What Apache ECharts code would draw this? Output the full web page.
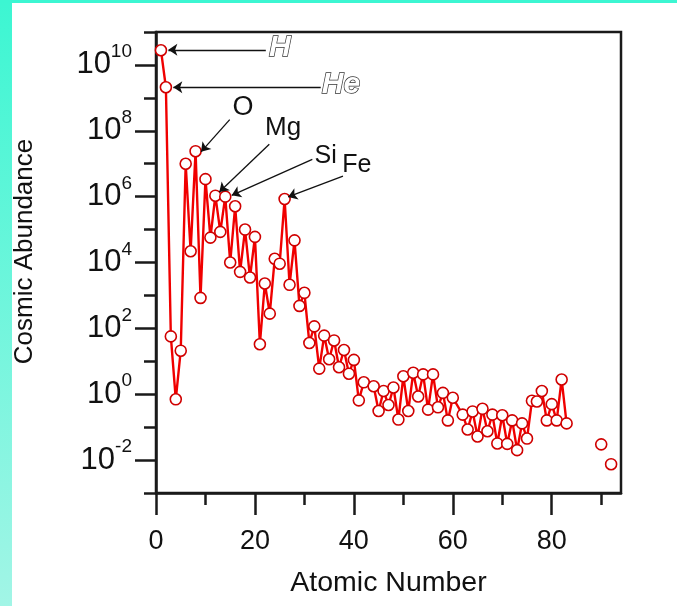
<!DOCTYPE html>
<html><head><meta charset="utf-8">
<script src="https://cdn.jsdelivr.net/npm/echarts@6.0.0/dist/echarts.min.js"></script>
<style>html,body{margin:0;padding:0;background:#fff}#c{width:677px;height:606px}</style>
</head><body><div id="c"></div>
<script>
// ---- data ----
const atomicNumbers = [1,2,3,4,5,6,7,8,9,10,11,12,13,14,15,16,17,18,19,20,
  21,22,23,24,25,26,27,28,29,30,31,32,33,34,35,36,37,38,39,40,41,42,
  44,45,46,47,48,49,50,51,52,53,54,55,56,57,58,59,60,
  62,63,64,65,66,67,68,69,70,71,72,73,74,75,76,77,78,79,80,81,82,83];
const abundances = [2.8e10,2.1e9,57,0.70,21,1.0e7,2.2e4,2.4e7,840,3.4e6,
  5.7e4,1.07e6,8.5e4,1.0e6,1.0e4,5.1e5,5200,1.0e5,3500,6.0e4,
  33,2300,280,1.3e4,9200,8.5e5,2100,4.7e4,480,1200,
  36,115,6.0,60,11.5,43,6.6,22,4.2,11,0.65,2.3,
  1.75,0.31,1.25,0.47,1.6,0.17,3.5,0.31,4.5,0.85,4.0,0.34,4.0,0.40,1.1,0.16,0.78,
  0.24,0.085,0.30,0.052,0.36,0.075,0.24,0.032,0.23,0.031,0.16,0.020,0.13,0.045,0.63,0.60,1.25,0.16,0.50,0.16,2.8,0.13];
const heavyAtomicNumbers = [90, 92];
const heavyAbundances = [0.030, 0.0075];

const xMajorTicks = [0, 20, 40, 60, 80];
const xMinorTicks = [10, 30, 50, 70, 90];
const yMajorTicks = [1e-2, 1e0, 1e2, 1e4, 1e6, 1e8, 1e10];
const yMinorTicks = [1e-3, 1e-1, 1e1, 1e3, 1e5, 1e7, 1e9, 1e11];

const xTitle = 'Atomic Number';
const yTitle = 'Cosmic Abundance';
const annotationNames = ['H', 'He', 'O', 'Mg', 'Si', 'Fe'];

// ---- annotation placement (data coordinates: [Z, log10 abundance]) ----
const annotationLayout = {
  H:  {text: [25.05, 10.52], from: [22.2, 10.46], to: [2.5, 10.46], outline: true, size: 30},
  He: {text: [37.4, 9.41],  from: [33.3, 9.32], to: [3.5, 9.32], outline: true, size: 30},
  O:  {text: [17.6, 8.70],  from: [14.9, 8.34], to: [9.1, 7.36], size: 27},
  Mg: {text: [25.7, 8.08],  from: [22.9, 7.59], to: [12.8, 6.14], size: 26},
  Si: {text: [34.3, 7.23],  from: [31.6, 7.13], to: [15.3, 6.04], size: 25},
  Fe: {text: [40.6, 6.95],  from: [37.8, 6.62], to: [26.7, 5.99], size: 25}
};

const FONT = '"Liberation Sans", Arial, Helvetica, sans-serif';
const p10 = e => Math.pow(10, e);

const mainData = atomicNumbers.map((z, i) => [z, abundances[i]]);
const heavyData = heavyAtomicNumbers.map((z, i) => [z, heavyAbundances[i]]);

const markLines = annotationNames.map(n => {
  const a = annotationLayout[n];
  return [{coord: [a.from[0], p10(a.from[1])]}, {coord: [a.to[0], p10(a.to[1])]}];
});
const labelData = annotationNames.map(n => {
  const a = annotationLayout[n];
  const lab = a.outline
    ? {show: true, position: 'inside', formatter: n, fontFamily: FONT, fontSize: a.size, fontStyle: 'italic',
       fontWeight: 'bold', color: '#ffffff', textBorderColor: '#333333', textBorderWidth: 1.4}
    : {show: true, position: 'inside', formatter: n, fontFamily: FONT, fontSize: a.size, color: '#111',
       textBorderWidth: 0};
  return {name: n, value: [a.text[0], p10(a.text[1])], label: lab};
});

const markerStyle = {color: '#ffffff', borderColor: '#d00000', borderWidth: 1.6, opacity: 1};
const axisColor = '#1a1a1a';

const chart = echarts.init(document.getElementById('c'), null, {renderer: 'canvas'});
chart.setOption({
  animation: false,
  backgroundColor: '#ffffff',
  graphic: [
    {type: 'rect', left: 0, top: 0, shape: {width: 12, height: 606}, silent: true,
     style: {fill: new echarts.graphic.LinearGradient(0, 0, 0, 1, [{offset: 0, color: '#3cf6d2'}, {offset: 1, color: '#a2f5e6'}])}},
    {type: 'rect', left: 0, top: 0, shape: {width: 677, height: 3}, silent: true, style: {fill: '#3cf6d2'}}
  ],
  grid: {left: 156, top: 32, width: 465, height: 461, show: true, borderColor: axisColor, borderWidth: 2.5, backgroundColor: 'transparent'},
  xAxis: [
    {type: 'value', min: 0, max: 94, position: 'bottom',
     name: xTitle, nameLocation: 'middle', nameGap: 76,
     nameTextStyle: {fontFamily: FONT, fontSize: 28.5, color: '#111'},
     axisLine: {show: true, lineStyle: {color: axisColor, width: 2.5}},
     axisTick: {show: true, inside: false, length: 22, customValues: xMajorTicks, lineStyle: {color: axisColor, width: 2.5}},
     axisLabel: {show: true, customValues: xMajorTicks, margin: 35, fontFamily: FONT, fontSize: 27, color: '#111'},
     splitLine: {show: false}},
    {type: 'value', min: 0, max: 94, position: 'bottom',
     axisLine: {show: false},
     axisTick: {show: true, inside: false, length: 12, customValues: xMinorTicks, lineStyle: {color: axisColor, width: 2.5}},
     axisLabel: {show: false}, splitLine: {show: false}}
  ],
  yAxis: [
    {type: 'log', logBase: 10, min: 1e-3, max: 1e11, position: 'left',
     name: yTitle, nameLocation: 'middle', nameGap: 118, nameRotate: 90,
     nameTextStyle: {fontFamily: FONT, fontSize: 26, color: '#111', padding: [0, 0, 0, 22]},
     axisLine: {show: true, lineStyle: {color: axisColor, width: 2.5}},
     axisTick: {show: true, inside: false, length: 21, customValues: yMajorTicks, lineStyle: {color: axisColor, width: 2.5}},
     axisLabel: {show: true, customValues: yMajorTicks, margin: 24,
       formatter: v => '{b|10}{s|' + Math.round(Math.log10(v)) + '}',
       rich: {
         b: {fontFamily: FONT, fontSize: 31, color: '#111', padding: [7, 0, 7, 0]},
         s: {fontFamily: FONT, fontSize: 19, color: '#111', verticalAlign: 'top'}
       }},
     splitLine: {show: false}},
    {type: 'log', logBase: 10, min: 1e-3, max: 1e11, position: 'left',
     axisLine: {show: false},
     axisTick: {show: true, inside: false, length: 12, customValues: yMinorTicks, lineStyle: {color: axisColor, width: 2.5}},
     axisLabel: {show: false}, splitLine: {show: false}}
  ],
  series: [
    {type: 'line', name: 'abundance', xAxisIndex: 0, yAxisIndex: 0, data: mainData,
     symbol: 'circle', symbolSize: 11, showSymbol: true, showAllSymbol: true,
     lineStyle: {color: '#f00000', width: 2.4}, itemStyle: markerStyle,
     emphasis: {disabled: true}, silent: true,
     markLine: {silent: true, symbol: ['none', 'arrow'], symbolSize: 9, animation: false,
       label: {show: false}, lineStyle: {color: '#111', width: 1.3, type: 'solid'},
       emphasis: {disabled: true}, data: markLines}},
    {type: 'scatter', name: 'heavy', xAxisIndex: 0, yAxisIndex: 0, data: heavyData,
     symbol: 'circle', symbolSize: 11, itemStyle: markerStyle, silent: true, emphasis: {disabled: true}},
    {type: 'scatter', name: 'labels', xAxisIndex: 0, yAxisIndex: 0, data: labelData,
     symbol: 'circle', symbolSize: 2, itemStyle: {color: 'rgba(255,255,255,0)', borderWidth: 0, opacity: 1},
     silent: true, clip: false, z: 5, emphasis: {disabled: true}}
  ]
});
</script></body></html>
